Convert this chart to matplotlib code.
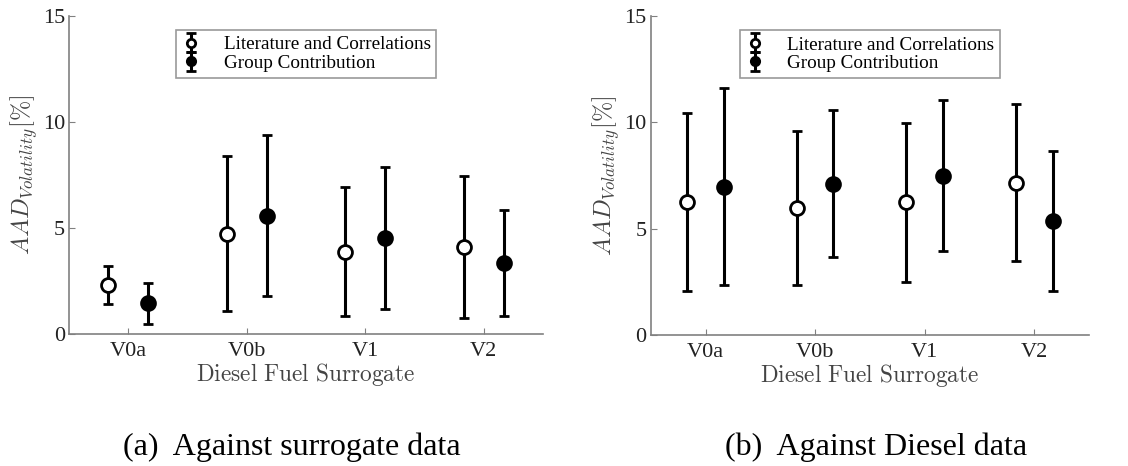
import matplotlib
matplotlib.use('Agg')
import matplotlib.pyplot as plt
import numpy as np

# surrogates on the x axis
surrogates = ['V0a', 'V0b', 'V1', 'V2']

# (a) against surrogate data
lit_a = [2.31, 4.72, 3.88, 4.12]
lit_a_lo = [1.42, 1.07, 0.83, 0.75]
lit_a_hi = [3.20, 8.41, 6.93, 7.45]
gc_a = [1.45, 5.57, 4.51, 3.33]
gc_a_lo = [0.47, 1.79, 1.16, 0.86]
gc_a_hi = [2.40, 9.39, 7.86, 5.85]

# (b) against Diesel data
lit_b = [6.27, 5.96, 6.24, 7.15]
lit_b_lo = [2.08, 2.33, 2.51, 3.46]
lit_b_hi = [10.45, 9.58, 9.95, 10.85]
gc_b = [6.94, 7.10, 7.49, 5.37]
gc_b_lo = [2.33, 3.65, 3.93, 2.08]
gc_b_hi = [11.60, 10.58, 11.06, 8.66]

plt.rcParams['font.family'] = ['Liberation Serif', 'DejaVu Serif']
plt.rcParams['mathtext.fontset'] = 'cm'


def draw_panel(ax, lit, lit_lo, lit_hi, gc, gc_lo, gc_hi):
    x = np.arange(1, len(surrogates) + 1)
    off = 0.167
    lit = np.array(lit)
    gc = np.array(gc)
    ax.errorbar(x - off, lit, yerr=[lit - np.array(lit_lo), np.array(lit_hi) - lit],
                fmt='o', color='black', mfc='white', mec='black', ms=10, mew=2,
                elinewidth=2.2, capsize=3.5, capthick=2.2,
                label='Literature and Correlations')
    ax.errorbar(x + off, gc, yerr=[gc - np.array(gc_lo), np.array(gc_hi) - gc],
                fmt='o', color='black', mfc='black', mec='black', ms=10, mew=2,
                elinewidth=2.2, capsize=3.5, capthick=2.2,
                label='Group Contribution')
    ax.set_xlim(0.5, 4.5)
    ax.set_ylim(0, 15)
    ax.set_xticks(x)
    ax.set_xticklabels(surrogates)
    ax.set_yticks([0, 5, 10, 15])
    for s in ['top', 'right']:
        ax.spines[s].set_visible(False)
    for s in ['left', 'bottom']:
        ax.spines[s].set_color('#808080')
        ax.spines[s].set_linewidth(1.2)
    ax.tick_params(direction='in', length=4, color='#808080', labelsize=16,
                   labelcolor='#222222')
    ax.tick_params(axis='x', pad=6)
    ax.tick_params(axis='y', pad=3)
    ax.set_xlabel(r'$\mathrm{Diesel\ Fuel\ Surrogate}$', fontsize=16.8,
                  color='#444444', labelpad=0)
    ax.set_ylabel(r'$AAD_{Volatility}[\%]$', fontsize=17.5, color='#444444',
                  labelpad=2)
    leg = ax.legend(loc='upper center', bbox_to_anchor=(0.5, 0.955), fontsize=13.8,
                    frameon=True, fancybox=False, handlelength=1.0,
                    handletextpad=1.2, borderpad=0.3, labelspacing=0.05,
                    borderaxespad=0.0, markerscale=0.6)
    leg.get_frame().set_edgecolor('#808080')
    leg.get_frame().set_linewidth(1.2)


fig = plt.figure(figsize=(11.28, 4.66), dpi=100)
ax1 = fig.add_axes([0.0612, 0.2833, 0.4202, 0.6824])
ax2 = fig.add_axes([0.5769, 0.2811, 0.3886, 0.6845])

draw_panel(ax1, lit_a, lit_a_lo, lit_a_hi, gc_a, gc_a_lo, gc_a_hi)
draw_panel(ax2, lit_b, lit_b_lo, lit_b_hi, gc_b, gc_b_lo, gc_b_hi)

fig.text(0.259, 0.041, '(a)  Against surrogate data', ha='center', va='center', fontsize=23)
fig.text(0.777, 0.041, '(b)  Against Diesel data', ha='center', va='center', fontsize=23)

fig.savefig('out.png', dpi=100)
